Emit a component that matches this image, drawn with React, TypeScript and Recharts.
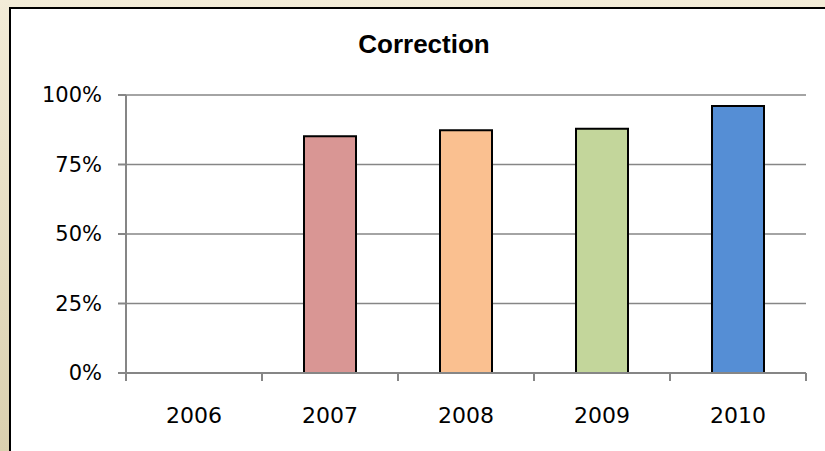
import React from 'react';
import { BarChart, Bar, Cell, XAxis, YAxis, CartesianGrid } from 'recharts';

// values
const years = ['2006', '2007', '2008', '2009', '2010'];
const correction = [null, 0.852, 0.873, 0.879, 0.96];
const barColors = ['#FFFFFF', '#D99694', '#FAC090', '#C3D69B', '#558ED5'];
const yTicks = [0, 0.25, 0.5, 0.75, 1];

const data = years.map((year, i) => ({ year, value: correction[i] }));

const axisGray = '#868686';
const labelFont = '"DejaVu Sans", sans-serif';

// category label, with the tick mark drawn on the category boundary (Excel style)
const YearTick = (props: any) => {
  const { x, y, payload, index } = props;
  const half = payload?.offset ?? 0;
  const last = index === years.length - 1;
  return (
    <g>
      <line x1={x - half} y1={y} x2={x - half} y2={y + 8} stroke={axisGray} strokeWidth={2} />
      {last && <line x1={x + half} y1={y} x2={x + half} y2={y + 8} stroke={axisGray} strokeWidth={2} />}
      <text
        x={x}
        y={y + 34}
        dy="0.71em"
        textAnchor="middle"
        fill="#000000"
        fontSize={22}
        fontFamily={labelFont}
      >
        {payload.value}
      </text>
    </g>
  );
};

export default function App() {
  return (
    <div
      style={{
        position: 'absolute',
        left: 0,
        top: 0,
        width: 825,
        height: 451,
        overflow: 'hidden',
        background: 'linear-gradient(#F3ECD8, #DAD0AF)',
      }}
    >
      {/* white chart panel, only its left and top borders fall inside the frame */}
      <div
        style={{
          position: 'absolute',
          left: 9,
          top: 7,
          width: 900,
          height: 500,
          background: '#FFFFFF',
          border: '2px solid #000000',
        }}
      />
      <svg width={825} height={451} style={{ position: 'absolute', left: 0, top: 0 }}>
        <text
          x={424}
          y={53}
          textAnchor="middle"
          fontFamily='"Liberation Sans", Arial, sans-serif'
          fontWeight="bold"
          fontSize={26}
          fill="#000000"
        >
          Correction
        </text>
      </svg>
      <div style={{ position: 'absolute', left: 0, top: 0 }}>
        <BarChart
          width={825}
          height={451}
          data={data}
          margin={{ top: 95, right: 19, left: 0, bottom: 0 }}
          barSize={52}
        >
          <CartesianGrid vertical={false} stroke={axisGray} strokeWidth={1.5} />
          <XAxis
            dataKey="year"
            height={78}
            axisLine={{ stroke: axisGray, strokeWidth: 2 }}
            tickLine={false}
            tickSize={0}
            tickMargin={0}
            interval={0}
            tick={<YearTick />}
          />
          <YAxis
            width={126}
            domain={[0, 1]}
            ticks={yTicks}
            interval={0}
            tickFormatter={(v: number) => `${Math.round(v * 100)}%`}
            tickSize={8}
            tickMargin={16}
            axisLine={{ stroke: axisGray, strokeWidth: 2 }}
            tickLine={{ stroke: axisGray, strokeWidth: 2 }}
            tick={{ fill: '#000000', fontSize: 21, fontFamily: labelFont }}
          />
          <Bar dataKey="value" stroke="#000000" strokeWidth={2} isAnimationActive={false}>
            {data.map((entry, index) => (
              <Cell key={`cell-${index}`} fill={barColors[index]} />
            ))}
          </Bar>
        </BarChart>
      </div>
    </div>
  );
}
